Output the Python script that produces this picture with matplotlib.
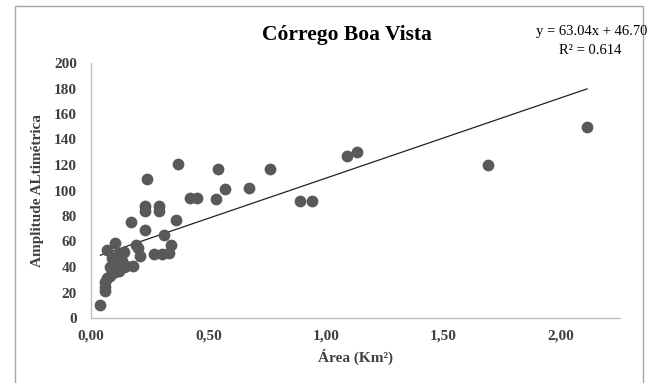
import matplotlib
matplotlib.use("Agg")
import matplotlib.pyplot as plt
from matplotlib.patches import Rectangle
from matplotlib.ticker import FuncFormatter
import numpy as np

# Área das sub-bacias (km²) e amplitude altimétrica (m)
area = [0.04, 0.06, 0.06, 0.06, 0.07, 0.08, 0.10, 0.12, 0.14, 0.10,
        0.09, 0.07, 0.10, 0.12, 0.14, 0.11, 0.15, 0.18, 0.19, 0.21,
        0.17, 0.23, 0.23, 0.23, 0.24, 0.29, 0.29, 0.27, 0.30, 0.31,
        0.33, 0.34, 0.36, 0.37, 0.42, 0.45, 0.53, 0.54, 0.57, 0.67,
        0.76, 0.89, 0.94, 1.09, 1.13, 1.69, 2.11, 0.20, 0.13, 0.08]
amplitude = [10, 21, 24, 28, 31, 33, 36, 37, 40, 44,
             47, 53, 59, 50, 52, 49, 41, 41, 57, 49,
             75, 69, 84, 88, 109, 84, 88, 50, 50, 65,
             51, 57, 77, 121, 94, 94, 93, 117, 101, 102,
             117, 92, 92, 127, 130, 120, 150, 55, 45, 40]

# coeficientes da linha de tendência
slope = 63.04
intercept = 46.70
r2 = 0.614

plt.rcParams['font.family'] = ['Liberation Serif', 'DejaVu Serif']

fig = plt.figure(figsize=(6.51, 3.83), dpi=100)
ax = fig.add_axes([91 / 651, 65 / 383, 529 / 651, 255 / 383])

# moldura do gráfico
fig.patches.append(Rectangle((15 / 651, -0.05), 628 / 651, 1.05 - 6 / 383,
                             transform=fig.transFigure, fill=False,
                             edgecolor='#a6a6a6', linewidth=1.0))

ax.scatter(area, amplitude, s=72, color='#595959', zorder=3, linewidths=0)

xs = np.array([min(area), max(area)])
ax.plot(xs, slope * xs + intercept, color='#222222', linewidth=0.9, zorder=2)

ax.set_xlim(0, 2.25)
ax.set_ylim(0, 200)
ax.set_xticks([0, 0.5, 1.0, 1.5, 2.0])
ax.set_yticks(range(0, 201, 20))
ax.xaxis.set_major_formatter(FuncFormatter(lambda v, p: f"{v:.2f}".replace('.', ',')))

for s in ['top', 'right']:
    ax.spines[s].set_visible(False)
for s in ['left', 'bottom']:
    ax.spines[s].set_color('#c0c0c0')
    ax.spines[s].set_linewidth(1.0)
ax.tick_params(axis='y', length=0, labelsize=11, colors='#404040', pad=10)
ax.tick_params(axis='x', length=0, labelsize=11, colors='#404040', pad=8)
for lab in ax.get_xticklabels() + ax.get_yticklabels():
    lab.set_fontweight('bold')

ax.set_xlabel('Área (Km²)', fontsize=11, fontweight='bold', color='#404040', labelpad=5)
ax.set_ylabel('Amplitude ALtimétrica', fontsize=11, fontweight='bold', color='#404040', labelpad=7)

fig.text(347 / 651, 1 - 35 / 383, 'Córrego Boa Vista', fontsize=15.5, fontweight='bold',
         ha='center', va='center', color='black')
fig.text(592 / 651, 1 - 32 / 383, f'y = {slope:.2f}x + {intercept:.2f}', fontsize=10.5,
         ha='center', va='center', color='black')
fig.text(590 / 651, 1 - 50 / 383, f'R² = {r2:.3f}', fontsize=10.5,
         ha='center', va='center', color='black')

fig.savefig('out.png', dpi=100)
